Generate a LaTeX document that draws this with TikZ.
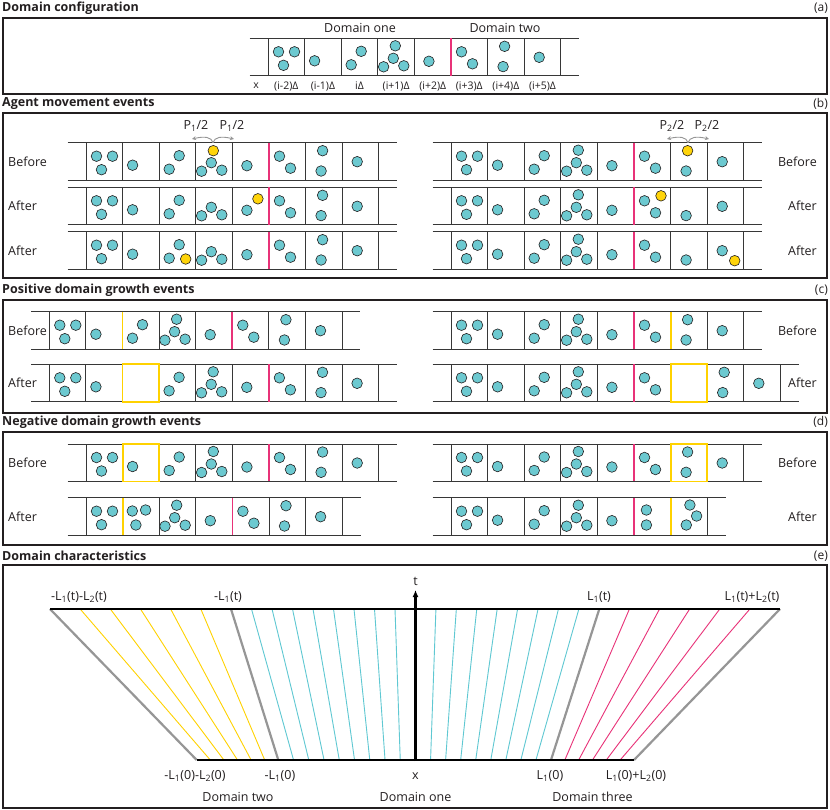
\documentclass[tikz,border=0pt]{standalone}
\usepackage{fontspec}
\setmainfont{Open Sans}
\usetikzlibrary{arrows.meta}
\definecolor{agentteal}{RGB}{108,201,208}
\definecolor{agentyellow}{RGB}{255,212,10}
\definecolor{dpink}{RGB}{232,50,120}
\definecolor{dyellow}{RGB}{255,210,0}
\definecolor{linegray}{RGB}{55,55,55}
\definecolor{txt}{RGB}{35,31,32}
\definecolor{lgray}{RGB}{150,150,150}
\definecolor{eteal}{RGB}{95,200,210}
\tikzset{
  agent/.style={draw=txt, line width=0.6pt, fill=agentteal},
  agenty/.style={draw=txt, line width=0.6pt, fill=agentyellow},
  tubeline/.style={draw=linegray, line width=1pt},
  divline/.style={draw=linegray, line width=0.9pt},
  pinkline/.style={draw=dpink, line width=1.8pt},
  yelline/.style={draw=dyellow, line width=1.8pt},
  panelframe/.style={draw=txt, line width=2pt},
  ptitle/.style={font=\fontsize{12.5}{14}\selectfont\bfseries, text=txt, anchor=west, inner sep=0pt},
  ptag/.style={font=\fontsize{12}{14}\selectfont, text=txt, anchor=east, inner sep=0pt},
  lab/.style={font=\fontsize{12.5}{14}\selectfont, text=txt, inner sep=0pt},
  clab/.style={font=\fontsize{10.5}{12}\selectfont, text=txt, inner sep=0pt},
  garrow/.style={draw=lgray, line width=0.9pt, -{Stealth[length=4pt,width=4pt]}},
  egray/.style={draw=lgray, line width=2.2pt},
  eyel/.style={draw=dyellow, line width=0.9pt},
  eteal/.style={draw=eteal, line width=0.9pt},
  epink/.style={draw=dpink, line width=0.9pt},
  eaxis/.style={draw=black, line width=2.2pt},
}
\newcommand{\ag}[2]{\draw[agent] (#1,#2) circle (5.3);}
\newcommand{\agy}[2]{\draw[agenty] (#1,#2) circle (5.3);}
\newcommand{\cellA}{\ag{10.5}{13.5}\ag{26.5}{13.5}\ag{15.5}{27}}
\newcommand{\cellB}{\ag{10}{22.5}}
\newcommand{\cellC}{\ag{20}{13}\ag{10}{26.5}}
\newcommand{\cellCy}{\ag{20}{13}\ag{10}{26.5}\agy{26.5}{27.3}}
\newcommand{\cellD}{\ag{17.5}{7.5}\ag{15.5}{20}\ag{5.8}{28.5}\ag{26}{27.5}}
\newcommand{\cellDy}{\agy{17.5}{8}\ag{15.5}{20}\ag{5.8}{28.5}\ag{26}{27.5}}
\newcommand{\cellDm}{\ag{15.5}{20}\ag{5.8}{28.5}\ag{26}{27.5}}
\newcommand{\cellE}{\ag{14.5}{23}}
\newcommand{\cellEy}{\ag{14.5}{23}\agy{25.5}{11.5}}
\newcommand{\cellF}{\ag{10.5}{13.5}\ag{21.5}{25.5}}
\newcommand{\cellFy}{\ag{10.5}{13.5}\ag{21.5}{25.5}\agy{27}{8.5}}
\newcommand{\cellG}{\ag{17}{8}\ag{15.5}{28.3}}
\newcommand{\cellGy}{\agy{17}{8}\ag{15.5}{28.3}}
\newcommand{\cellGm}{\ag{15.5}{28.3}}
\newcommand{\cellH}{\ag{15}{19}}
\newcommand{\cellHy}{\ag{15}{19}\agy{27.5}{29}}
\newcommand{\cellM}{\ag{9.7}{13.3}\ag{23}{12.3}\ag{13.3}{27.3}}
\newcommand{\cellFp}{\ag{12.4}{12.3}\ag{12.4}{27.3}}
\newcommand{\cellGp}{\ag{19.3}{7.3}\ag{26}{18.3}\ag{15.7}{27.3}}
\newcommand{\cellN}{}
% #1 x0, #2 ytop, #3 number of cells, #4 contents
\newcommand{\tube}[4]{%
  \draw[tubeline] (#1-18.3,#2) -- (#1+#3*36.6+18.3,#2);
  \draw[tubeline] (#1-18.3,#2+37.4) -- (#1+#3*36.6+18.3,#2+37.4);
  \foreach \kk in {0,...,#3} \draw[divline] (#1+\kk*36.6,#2) -- (#1+\kk*36.6,#2+37.4);
  \foreach \cont [count=\ii from 0] in {#4} {\begin{scope}[shift={(#1+\ii*36.6,#2)}]\cont\end{scope}}
}
\newcommand{\pinkat}[3]{\draw[pinkline] (#1+#3*36.6,#2) -- (#1+#3*36.6,#2+37.4);}
\newcommand{\yelat}[3]{\draw[yelline] (#1+#3*36.6,#2) -- (#1+#3*36.6,#2+37.4);}
\newcommand{\yelbox}[3]{\draw[yelline] (#1+#3*36.6,#2) rectangle (#1+#3*36.6+36.6,#2+37.4);}
\begin{document}
\begin{tikzpicture}[x=1pt,y=-1pt]
\useasboundingbox (0,0) rectangle (830,809);
\fill[white] (0,0) rectangle (830,809);
% ---------- (a)
\node[ptitle] (ta) at (2,8) {Domain configuration};
\node[ptag] (taga) at (828,8) {(a)};
\draw[panelframe] (3,17.5) rectangle (827,94);
\node[lab] (d1) at (360,28) {Domain one};
\node[lab] (d2) at (505,28) {Domain two};
\tube{268}{38.3}{8}{\cellA,\cellB,\cellC,\cellD,\cellE,\cellF,\cellG,\cellH}
\pinkat{268}{38.3}{5}
\node[clab] (lx) at (256,86) {x};
\foreach \t [count=\i from 0] in {(i-2)Δ,(i-1)Δ,iΔ,(i+1)Δ,(i+2)Δ,(i+3)Δ,(i+4)Δ,(i+5)Δ}
  \node[clab] (cl\i) at (268+18.3+\i*36.6,86) {\t};
% ---------- (b)
\node[ptitle] (tb) at (2,104) {Agent movement events};
\node[ptag] (tagb) at (828,104) {(b)};
\draw[panelframe] (3,113) rectangle (827,278);
\tube{86}{142.7}{8}{\cellA,\cellB,\cellC,\cellDy,\cellE,\cellF,\cellG,\cellH}
\pinkat{86}{142.7}{5}
\tube{86}{187.3}{8}{\cellA,\cellB,\cellC,\cellDm,\cellEy,\cellF,\cellG,\cellH}
\pinkat{86}{187.3}{5}
\tube{86}{231.7}{8}{\cellA,\cellB,\cellCy,\cellDm,\cellE,\cellF,\cellG,\cellH}
\pinkat{86}{231.7}{5}
\tube{451}{142.7}{8}{\cellA,\cellB,\cellC,\cellD,\cellE,\cellF,\cellGy,\cellH}
\pinkat{451}{142.7}{5}
\tube{451}{187.3}{8}{\cellA,\cellB,\cellC,\cellD,\cellE,\cellFy,\cellGm,\cellH}
\pinkat{451}{187.3}{5}
\tube{451}{231.7}{8}{\cellA,\cellB,\cellC,\cellD,\cellE,\cellF,\cellGm,\cellHy}
\pinkat{451}{231.7}{5}
\node[lab, anchor=west] (bl1) at (8,161.5) {Before};
\node[lab, anchor=west] (bl2) at (8,206) {After};
\node[lab, anchor=west] (bl3) at (8,250.5) {After};
\node[lab, anchor=east] (br1) at (817,161.5) {Before};
\node[lab, anchor=east] (br2) at (817,206) {After};
\node[lab, anchor=east] (br3) at (817,250.5) {After};
\coordinate (s1) at (213,142.7);
\coordinate (s1l) at (192,139);
\coordinate (s1r) at (234,139);
\draw[garrow] (s1) .. controls (211.5,137) and (205,136) .. (s1l);
\draw[garrow] (s1) .. controls (214.5,137) and (221,136) .. (s1r);
\node[lab] (p1a) at (196,126) {P\textsubscript{1}/2};
\node[lab] (p1b) at (232,126) {P\textsubscript{1}/2};
\coordinate (s2) at (688,142.7);
\coordinate (s2l) at (667,139);
\coordinate (s2r) at (709,139);
\draw[garrow] (s2) .. controls (686.5,137) and (680,136) .. (s2l);
\draw[garrow] (s2) .. controls (689.5,137) and (696,136) .. (s2r);
\node[lab] (p2a) at (672,126) {P\textsubscript{2}/2};
\node[lab] (p2b) at (707,126) {P\textsubscript{2}/2};
% ---------- (c)
\node[ptitle] (tc) at (2,290) {Positive domain growth events};
\node[ptag] (tagc) at (828,290) {(c)};
\draw[panelframe] (3,300) rectangle (827,413);
\tube{49.3}{311.7}{8}{\cellA,\cellB,\cellC,\cellD,\cellE,\cellF,\cellG,\cellH}
\yelat{49.3}{311.7}{2}
\pinkat{49.3}{311.7}{5}
\tube{49.3}{364.3}{9}{\cellA,\cellB,\cellN,\cellC,\cellD,\cellE,\cellF,\cellG,\cellH}
\yelbox{49.3}{364.3}{2}
\pinkat{49.3}{364.3}{6}
\tube{451}{311.7}{8}{\cellA,\cellB,\cellC,\cellD,\cellE,\cellF,\cellG,\cellH}
\pinkat{451}{311.7}{5}
\yelat{451}{311.7}{6}
\tube{451}{364.3}{9}{\cellA,\cellB,\cellC,\cellD,\cellE,\cellF,\cellN,\cellG,\cellH}
\pinkat{451}{364.3}{5}
\yelbox{451}{364.3}{6}
\node[lab, anchor=west] (cl1) at (8,330.5) {Before};
\node[lab, anchor=west] (cl2) at (8,383) {After};
\node[lab, anchor=east] (cr1) at (817,330.5) {Before};
\node[lab, anchor=east] (cr2) at (817,383) {After};
% ---------- (d)
\node[ptitle] (td) at (2,422) {Negative domain growth events};
\node[ptag] (tagd) at (828,422) {(d)};
\draw[panelframe] (3,432) rectangle (827,545);
\tube{86}{444}{8}{\cellA,\cellB,\cellC,\cellD,\cellE,\cellF,\cellG,\cellH}
\yelbox{86}{444}{1}
\pinkat{86}{444}{5}
\tube{86}{497.7}{7}{\cellA,\cellM,\cellD,\cellE,\cellF,\cellG,\cellH}
\yelat{86}{497.7}{1}
\pinkat{86}{497.7}{4}
\tube{451}{444}{8}{\cellA,\cellB,\cellC,\cellD,\cellE,\cellF,\cellG,\cellH}
\pinkat{451}{444}{5}
\yelbox{451}{444}{6}
\tube{451}{497.7}{7}{\cellA,\cellB,\cellC,\cellD,\cellE,\cellFp,\cellGp}
\pinkat{451}{497.7}{5}
\yelat{451}{497.7}{6}
\node[lab, anchor=west] (dl1) at (8,462.7) {Before};
\node[lab, anchor=west] (dl2) at (8,516.4) {After};
\node[lab, anchor=east] (dr1) at (817,462.7) {Before};
\node[lab, anchor=east] (dr2) at (817,516.4) {After};
% ---------- (e)
\node[ptitle] (te) at (2,556) {Domain characteristics};
\node[ptag] (tage) at (828,556) {(e)};
\draw[panelframe] (3,565) rectangle (827,807.5);
\foreach \k in {1,...,5}
  \draw[eyel] ({50+\k*(231-50)/6},609) -- ({196.7+\k*(278.3-196.7)/6},760);
\foreach \k in {1,...,8}
  \draw[eteal] ({231+\k*(415.5-231)/9},609) -- ({278.3+\k*(415.5-278.3)/9},760);
\foreach \k in {1,...,8}
  \draw[eteal] ({415.5+\k*(599.3-415.5)/9},609) -- ({415.5+\k*(551-415.5)/9},760);
\foreach \k in {1,...,5}
  \draw[epink] ({599.3+\k*(780-599.3)/6},609) -- ({551+\k*(634-551)/6},760);
\coordinate (tl) at (50,609);
\coordinate (tr) at (780,609);
\coordinate (bl) at (196.7,760);
\coordinate (br) at (634,760);
\coordinate (til) at (231,609);
\coordinate (bil) at (278.3,760);
\coordinate (tir) at (599.3,609);
\coordinate (bir) at (551,760);
\draw[egray] (tl) -- (bl);
\draw[egray] (til) -- (bil);
\draw[egray] (tir) -- (bir);
\draw[egray] (tr) -- (br);
\draw[eaxis] (tl) -- (tr);
\draw[eaxis] (bl) -- (br);
\coordinate (ax0) at (415.5,761);
\coordinate (ax1) at (415.5,590);
\draw[eaxis, -{Latex[length=7pt,width=6pt]}] (ax0) -- (ax1);
\node[lab] (tlab) at (415.5,581) {t};
\node[lab] (xlab) at (415.5,776) {x};
\node[lab] (e1) at (79,597) {-L\textsubscript{1}(t)-L\textsubscript{2}(t)};
\node[lab] (e2) at (228,597) {-L\textsubscript{1}(t)};
\node[lab] (e3) at (599,597) {L\textsubscript{1}(t)};
\node[lab] (e4) at (752,597) {L\textsubscript{1}(t)+L\textsubscript{2}(t)};
\node[lab] (e5) at (195,776) {-L\textsubscript{1}(0)-L\textsubscript{2}(0)};
\node[lab] (e6) at (280,776) {-L\textsubscript{1}(0)};
\node[lab] (e7) at (550,776) {L\textsubscript{1}(0)};
\node[lab] (e8) at (636,776) {L\textsubscript{1}(0)+L\textsubscript{2}(0)};
\node[lab] (dom2) at (238,797) {Domain two};
\node[lab] (dom1) at (415.5,797) {Domain one};
\node[lab] (dom3) at (592.5,797) {Domain three};
\end{tikzpicture}
\end{document}
